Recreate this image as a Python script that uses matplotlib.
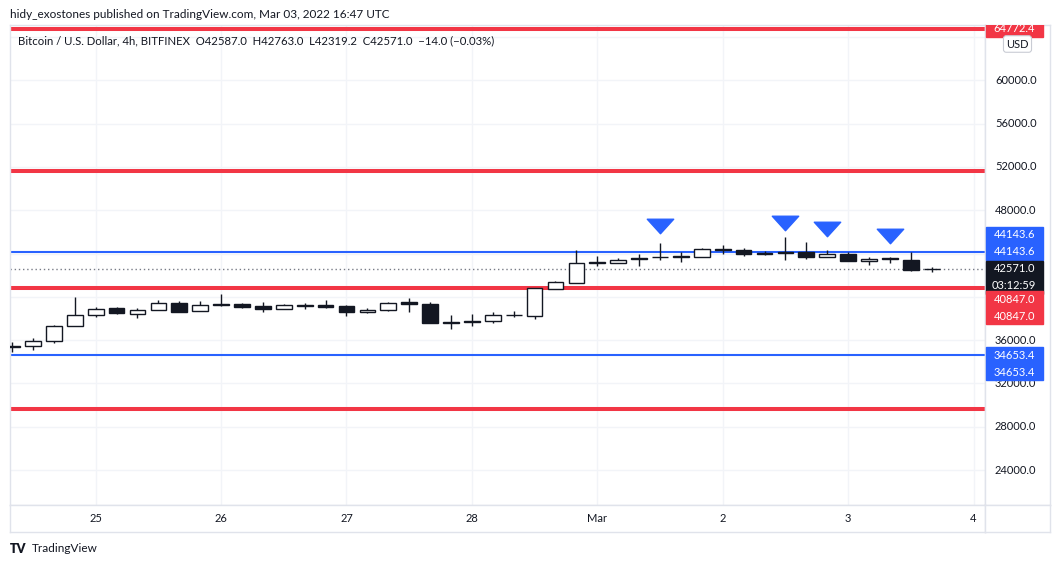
#!/usr/bin/env python3
"""
plot.py
BTC/USD 4h candles (Bitfinex) with support / resistance levels,
TradingView-style snapshot.
"""

import matplotlib
matplotlib.use("Agg")
import matplotlib.pyplot as plt
from matplotlib.path import Path
from matplotlib.patches import Rectangle
from matplotlib.transforms import blended_transform_factory

plt.rcParams["font.family"] = ["Lato", "DejaVu Sans"]

W, H = 1062, 567

# candle index in 4h steps, 0 = Feb 25 00:00 UTC
candle_idx = list(range(-4, 41))
opens = [35420, 35415, 35940, 37350, 38330, 38980, 38400, 38760, 39440, 38670,
         39300, 39350, 39160, 38890, 39210, 39280, 39190, 38610, 38760, 39530,
         39380, 37680, 37740, 37780, 38300, 38270, 40760, 41310, 43120, 43150,
         43580, 43700, 43670, 43650, 44450, 44320, 44080, 44130, 44160, 43670,
         43920, 43330, 43550, 43430, 42587.0]
highs = [35850, 36180, 37380, 39960, 39070, 39020, 38950, 39720, 39590, 39620,
         40270, 39410, 39530, 39380, 39470, 39720, 39220, 38950, 39560, 39930,
         39500, 38360, 38430, 38580, 38700, 40850, 41490, 44350, 43790, 43550,
         43950, 44930, 44100, 44510, 44810, 44500, 44250, 45480, 45080, 44350,
         44100, 43670, 43700, 44100, 42763.0]
lows = [34930, 35110, 35760, 37300, 38180, 38400, 38020, 38740, 38580, 38660,
        39130, 38950, 38640, 38880, 38890, 38950, 38210, 38490, 38670, 38640,
        37580, 37010, 37350, 37570, 38120, 37970, 40740, 41290, 42870, 43140,
        42870, 43400, 43240, 43640, 43950, 43770, 43890, 43400, 43490, 43660,
        43300, 42940, 43120, 42350, 42319.2]
closes = [35380, 35875, 37350, 38330, 38915, 38490, 38820, 39440, 38640, 39260,
          39260, 39100, 38860, 39260, 39180, 39030, 38580, 38820, 39440, 39320,
          37600, 37600, 37680, 38330, 38350, 40820, 41340, 43120, 43170, 43430,
          43490, 43640, 43730, 44410, 44320, 43950, 43960, 44070, 43670, 43920,
          43310, 43520, 43460, 42480, 42571.0]

day_ticks = [0, 6, 12, 18, 24, 30, 36, 42]
day_labels = ["25", "26", "27", "28", "Mar", "2", "3", "4"]
price_ticks = list(range(24000, 64001, 4000))
hidden_ticks = [40000, 44000, 64000]   # covered by the price tags

red_levels = [64772.4, 51650.0, 40847.0, 29600.0]
blue_levels = [44143.6, 34653.4]
last_close = 42571.0
countdown = "03:12:59"

marker_idx = [27, 33, 35, 38]
marker_prices = [46560, 46830, 46280, 45640]

header = "hidy_exostones published on TradingView.com, Mar 03, 2022 16:47 UTC"
legend = ("Bitcoin / U.S. Dollar, 4h, BITFINEX  O42587.0  H42763.0  "
          "L42319.2  C42571.0  \u221214.0 (\u22120.03%)")

DARK = "#131722"
RED = "#f23645"
BLUE = "#2962ff"
GRID = "#f2f4f8"
BORDER = "#e0e3eb"

Y_TOP, Y_BOT = 65100, 20777
X_LEFT, X_RIGHT = -4.1, 42.55


def frac(x0, y0, x1, y1):
    return [x0 / W, 1 - y1 / H, (x1 - x0) / W, (y1 - y0) / H]


def style_spines(a):
    for s in a.spines.values():
        s.set_color(BORDER)
        s.set_linewidth(1)


def tag(pax, price, texts, color, first_px):
    # stacked price tags on the right scale, offsets in pixels
    ppx = (Y_TOP - Y_BOT) / 480.0
    row = 16.5
    tr = blended_transform_factory(pax.transAxes, pax.transData)
    top = price - (first_px - row / 2) * ppx
    bot = price - (first_px + row * (len(texts) - 0.5)) * ppx
    pax.add_patch(Rectangle((1 / 65, bot), 57 / 65, top - bot, transform=tr,
                            fc=color, ec=color, zorder=5))
    for k, t in enumerate(texts):
        y = price - (first_px + k * row) * ppx
        pax.text(0.45, y, t, transform=tr, ha="center", va="center",
                 color="white", fontsize=8, zorder=6, clip_on=True)


def main():
    fig = plt.figure(figsize=(W / 100, H / 100), dpi=100)
    fig.patch.set_facecolor("white")

    ax = fig.add_axes(frac(10, 25, 985, 505))
    pax = fig.add_axes(frac(985, 25, 1050, 505), sharey=ax)
    tax = fig.add_axes(frac(10, 505, 985, 532), sharex=ax)
    cax = fig.add_axes(frac(985, 505, 1050, 532))

    ax.set_xlim(X_LEFT, X_RIGHT)
    ax.set_ylim(Y_BOT, Y_TOP)
    ax.set_xticks(day_ticks)
    ax.set_yticks(price_ticks)
    ax.grid(color=GRID, lw=1, zorder=0)
    ax.set_axisbelow(True)
    ax.tick_params(length=0, labelbottom=False, labelleft=False)

    for lv in red_levels:
        ax.axhline(lv, color=RED, lw=2.9, zorder=2)
    for lv in blue_levels:
        ax.axhline(lv, color=BLUE, lw=1.5, zorder=2)
    ax.axhline(last_close, color="#787b86", lw=1, ls=(0, (1, 2)), zorder=2)

    for i, o, h, l, c in zip(candle_idx, opens, highs, lows, closes):
        ax.vlines(i, l, h, color=DARK, lw=1, zorder=3)
        lo, hi = min(o, c), max(o, c)
        ax.bar(i, max(hi - lo, 40), bottom=lo, width=0.75,
               color="white" if c >= o else DARK, edgecolor=DARK, lw=1, zorder=4)

    tri = Path([(-1, 0.55), (1, 0.55), (0, -0.55), (-1, 0.55)],
               [Path.MOVETO, Path.LINETO, Path.LINETO, Path.CLOSEPOLY])
    ax.plot(marker_idx, marker_prices, ls="none", marker=tri, markersize=19,
            color=BLUE, zorder=6)

    # price scale
    pax.set_xlim(0, 1)
    pax.tick_params(length=0, labelleft=False, labelbottom=False)
    pax.set_xticks([])
    tr = blended_transform_factory(pax.transAxes, pax.transData)
    for p in price_ticks:
        if p in hidden_ticks:
            continue
        pax.text(10 / 65, p, f"{p:.1f}", transform=tr, ha="left", va="center",
                 fontsize=8, color=DARK, zorder=2, clip_on=True)
    tag(pax, red_levels[0], ["64772.4"], RED, 0)
    tag(pax, blue_levels[0], ["44143.6", "44143.6"], BLUE, -17)
    tag(pax, last_close, [f"{last_close:.1f}", countdown], DARK, 0)
    tag(pax, red_levels[2], ["40847.0", "40847.0"], RED, 12)
    tag(pax, blue_levels[1], ["34653.4", "34653.4"], BLUE, 1)
    pax.text(0.5, 1 - 19 / 480, "USD", transform=pax.transAxes, ha="center",
             va="center", fontsize=8, color=DARK, zorder=7,
             bbox=dict(boxstyle="round,pad=0.25", fc="white", ec="#c9ccd4", lw=0.8))

    # time scale
    tax.set_ylim(0, 1)
    tax.tick_params(length=0, labelleft=False, labelbottom=False)
    tax.set_yticks([])
    for x, lab in zip(day_ticks, day_labels):
        tax.text(x, 0.5, lab, ha="center", va="center", fontsize=8, color=DARK)
    cax.set_xticks([])
    cax.set_yticks([])

    for a in (ax, pax, tax, cax):
        style_spines(a)

    fig.text(10 / W, 1 - 14 / H, header, ha="left", va="center", fontsize=8.5, color=DARK)
    fig.text(18 / W, 1 - 41 / H, legend, ha="left", va="center", fontsize=8.2, color=DARK)
    fig.text(10 / W, 1 - 549 / H, "TV", ha="left", va="center", fontsize=9,
             fontweight="heavy", color=DARK)
    fig.text(32 / W, 1 - 549 / H, "TradingView", ha="left", va="center",
             fontsize=8.5, color=DARK)

    fig.savefig("out.png", dpi=100)


if __name__ == "__main__":
    main()
